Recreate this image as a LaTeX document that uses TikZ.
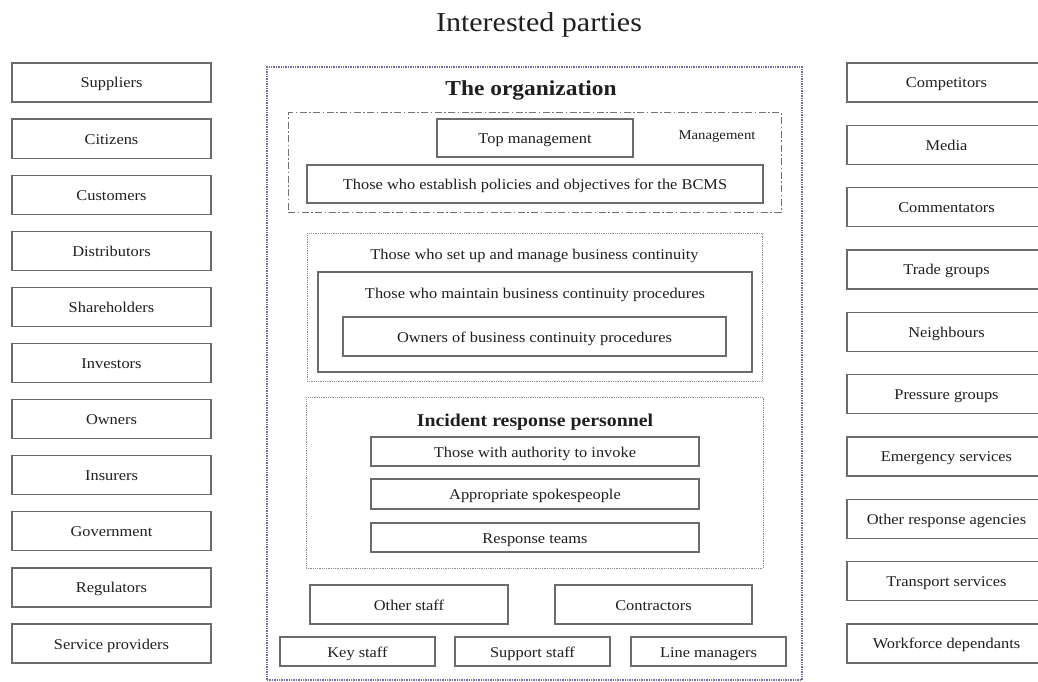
\documentclass[tikz,border=0pt]{standalone}
\usepackage{fontspec}
\setmainfont{Liberation Serif}[FakeStretch=1.1]
\begin{document}
\begin{tikzpicture}[x=1pt,y=-1pt,
  txt/.style={text=black!88, inner sep=0pt},
  pbox/.style={draw=black!58, line width=1.2pt, fill=white, text=black!88, inner sep=0pt,
    text height=11pt, text depth=0pt,
    font=\fontsize{14.9}{16}\selectfont},
  grpdot/.style={draw=black!45, line width=1pt, dash pattern=on 1pt off 0.8pt, inner sep=0pt},
  grpdashdot/.style={draw=black!55, line width=1pt, dash pattern=on 7pt off 2.5pt on 1.5pt off 2.5pt, inner sep=0pt},
  grpsolid/.style={draw=black!58, line width=1.2pt, inner sep=0pt},
  orgbox/.style={draw={rgb,255:red,110;green,110;blue,165}, line width=1.6pt, dash pattern=on 1.4pt off 1pt, inner sep=0pt}
]
\clip (0,0) rectangle (1038,682);
\fill[white] (0,0) rectangle (1038,682);

% title
\node[txt, anchor=base, font=\fontsize{27.3}{30}\selectfont] (title) at (539,32) {Interested parties};

% left column
\foreach \name/\lab [count=\i from 0] in {sup/Suppliers, cit/Citizens, cus/Customers, dis/Distributors, sha/Shareholders, inv/Investors, own/Owners, ins/Insurers, gov/Government, reg/Regulators, ser/Service providers}{
  \node[pbox, minimum width=199pt, minimum height=39pt] (\name) at (111.5,{82.5+56.1*\i}) {\lab};
}

% right column
\foreach \name/\lab [count=\i from 0] in {com/Competitors, med/Media, cmt/Commentators, tra/Trade groups, nei/Neighbours, pre/Pressure groups, eme/Emergency services, ora/Other response agencies, trs/Transport services, wfd/Workforce dependants}{
  \node[pbox, minimum width=199pt, minimum height=39pt] (\name) at (946.5,{82.5+62.33*\i}) {\lab};
}

% organization
\node[orgbox, minimum width=535pt, minimum height=613pt] (org) at (534.5,373.5) {};
\node[txt, font=\bfseries\fontsize{21.3}{24}\selectfont] (orgt) at (531,90) {The organization};

% management
\node[grpdashdot, minimum width=493pt, minimum height=99pt] (mgmt) at (534.5,162.5) {};
\node[txt, font=\fontsize{13.4}{15}\selectfont] (mgmtl) at (717,137) {Management};
\node[pbox, minimum width=196pt, minimum height=38pt] (topm) at (535,138) {Top management};
\node[pbox, minimum width=456pt, minimum height=38pt] (pol) at (535,184) {Those who establish policies and objectives for the BCMS};

% business continuity
\node[grpdot, minimum width=455pt, minimum height=148pt] (setup) at (534.5,307) {};
\node[txt, font=\fontsize{14.9}{16}\selectfont] (setupl) at (534.5,255.5) {Those who set up and manage business continuity};
\node[grpsolid, minimum width=434pt, minimum height=100pt] (maint) at (535,322) {};
\node[txt, font=\fontsize{14.9}{16}\selectfont] (maintl) at (535,294.5) {Those who maintain business continuity procedures};
\node[pbox, minimum width=383pt, minimum height=39pt] (owners) at (534.5,336.5) {Owners of business continuity procedures};

% incident response
\node[grpdot, minimum width=457pt, minimum height=171pt] (inc) at (534.5,482.5) {};
\node[txt, font=\bfseries\fontsize{18}{20}\selectfont] (incl) at (535,422) {Incident response personnel};
\node[pbox, minimum width=328pt, minimum height=29pt] (auth) at (535,451.5) {Those with authority to invoke};
\node[pbox, minimum width=328pt, minimum height=30pt] (appr) at (535,494) {Appropriate spokespeople};
\node[pbox, minimum width=328pt, minimum height=29pt] (resp) at (535,537.5) {Response teams};

% staff
\node[pbox, minimum width=198pt, minimum height=39pt] (oth) at (409,604.5) {Other staff};
\node[pbox, minimum width=197pt, minimum height=39pt] (con) at (653.5,604.5) {Contractors};
\node[pbox, minimum width=155pt, minimum height=29pt] (key) at (357.5,651.5) {Key staff};
\node[pbox, minimum width=155pt, minimum height=29pt] (sup2) at (532.5,651.5) {Support staff};
\node[pbox, minimum width=155pt, minimum height=29pt] (lin) at (708.5,651.5) {Line managers};
\end{tikzpicture}
\end{document}
